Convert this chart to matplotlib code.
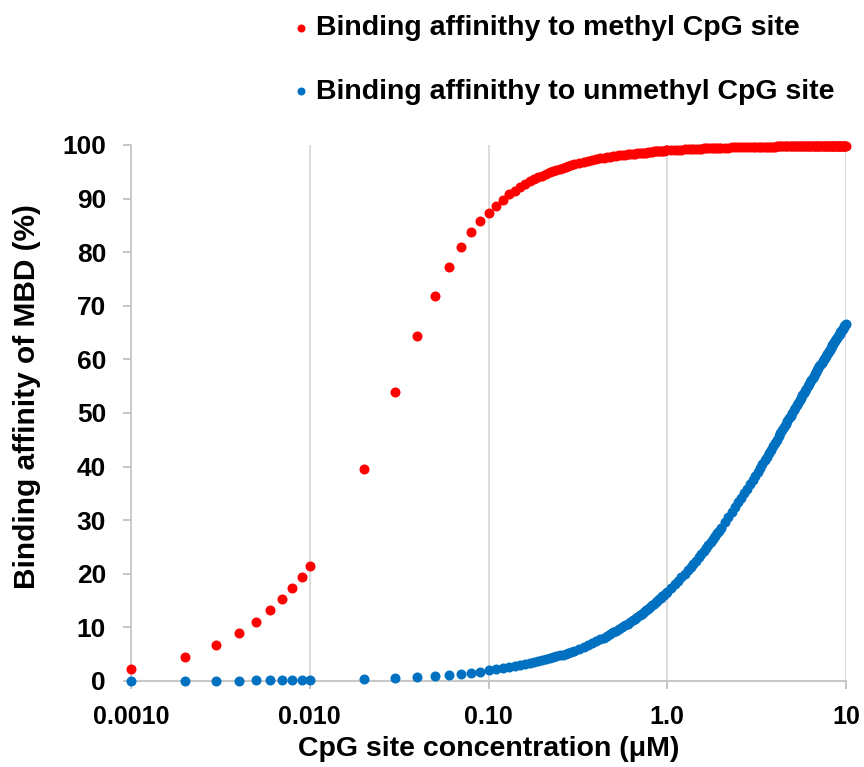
import matplotlib
matplotlib.use('Agg')
import matplotlib.pyplot as plt
from matplotlib import font_manager
from matplotlib.ticker import FixedLocator, NullLocator

plt.rcParams['font.family'] = ['Liberation Sans', 'DejaVu Sans']
plt.rcParams['font.weight'] = 'bold'

# CpG site concentration (uM)
conc = [0.001, 0.002, 0.003, 0.004, 0.005, 0.006, 0.007, 0.008, 0.009, 0.010,
        0.02, 0.03, 0.04, 0.05, 0.06, 0.07, 0.08, 0.09,
        0.10, 0.11, 0.12, 0.13, 0.14, 0.15, 0.16, 0.17, 0.18, 0.19, 0.20,
        0.21, 0.22, 0.23, 0.24, 0.25, 0.26, 0.27, 0.28, 0.29, 0.30,
        0.32, 0.34, 0.36, 0.38, 0.40, 0.42, 0.44, 0.46, 0.48, 0.50,
        0.52, 0.54, 0.56, 0.58, 0.60, 0.62, 0.64, 0.66, 0.68, 0.70,
        0.72, 0.74, 0.76, 0.78, 0.80, 0.82, 0.84, 0.86, 0.88, 0.90,
        0.92, 0.94, 0.96, 0.98, 1.00,
        1.05, 1.10, 1.15, 1.20, 1.25, 1.30, 1.35, 1.40, 1.45, 1.50,
        1.55, 1.60, 1.65, 1.70, 1.75, 1.80, 1.85, 1.90, 1.95, 2.00,
        2.1, 2.2, 2.3, 2.4, 2.5, 2.6, 2.7, 2.8, 2.9, 3.0,
        3.1, 3.2, 3.3, 3.4, 3.5, 3.6, 3.7, 3.8, 3.9, 4.0,
        4.1, 4.2, 4.3, 4.4, 4.5, 4.6, 4.7, 4.8, 4.9, 5.0,
        5.1, 5.2, 5.3, 5.4, 5.5, 5.6, 5.7, 5.8, 5.9, 6.0,
        6.1, 6.2, 6.3, 6.4, 6.5, 6.6, 6.7, 6.8, 6.9, 7.0,
        7.1, 7.2, 7.3, 7.4, 7.5, 7.6, 7.7, 7.8, 7.9, 8.0,
        8.1, 8.2, 8.3, 8.4, 8.5, 8.6, 8.7, 8.8, 8.9, 9.0,
        9.1, 9.2, 9.3, 9.4, 9.5, 9.6, 9.7, 9.8, 9.9, 10.0]

# binding to methyl CpG site (%)
methyl = [2.2, 4.5, 6.8, 8.9, 11.1, 13.3, 15.3, 17.3, 19.4, 21.5,
          39.5, 54.0, 64.4, 71.8, 77.2, 81.0, 83.8, 85.8,
          87.4, 88.7, 89.8, 90.8, 91.5, 92.2, 92.7, 93.2, 93.6, 94.0, 94.3,
          94.6, 94.9, 95.2, 95.4, 95.6, 95.8, 95.9, 96.1, 96.2, 96.4,
          96.6, 96.8, 97.0, 97.2, 97.3, 97.5, 97.6, 97.7, 97.8, 97.9,
          98.0, 98.1, 98.1, 98.2, 98.3, 98.3, 98.4, 98.4, 98.5, 98.5,
          98.6, 98.6, 98.6, 98.7, 98.7, 98.7, 98.8, 98.8, 98.8, 98.9,
          98.9, 98.9, 98.9, 99.0, 99.0,
          99.0, 99.1, 99.1, 99.1, 99.2, 99.2, 99.2, 99.3, 99.3, 99.3,
          99.3, 99.4, 99.4, 99.4, 99.4, 99.4, 99.5, 99.5, 99.5, 99.5,
          99.5, 99.5, 99.6, 99.6, 99.6, 99.6, 99.6, 99.6, 99.7, 99.7,
          99.7, 99.7, 99.7, 99.7, 99.7, 99.7, 99.7, 99.7, 99.7, 99.7,
          99.8, 99.8, 99.8, 99.8, 99.8, 99.8, 99.8, 99.8, 99.8, 99.8,
          99.8, 99.8, 99.8, 99.8, 99.8, 99.8, 99.8, 99.8, 99.8, 99.8,
          99.8, 99.8, 99.8, 99.8, 99.8, 99.8, 99.8, 99.8, 99.8, 99.8,
          99.9, 99.9, 99.9, 99.9, 99.9, 99.9, 99.9, 99.9, 99.9, 99.9,
          99.9, 99.9, 99.9, 99.9, 99.9, 99.9, 99.9, 99.9, 99.9, 99.9,
          99.9, 99.9, 99.9, 99.9, 99.9, 99.9, 99.9, 99.9, 99.9, 99.9]

# binding to unmethyl CpG site (%)
unmethyl = [0.02, 0.04, 0.06, 0.08, 0.10, 0.12, 0.14, 0.16, 0.18, 0.20,
            0.40, 0.60, 0.79, 0.99, 1.19, 1.38, 1.57, 1.77,
            1.96, 2.15, 2.34, 2.53, 2.72, 2.91, 3.10, 3.29, 3.48, 3.66, 3.85,
            4.03, 4.22, 4.40, 4.58, 4.76, 4.94, 5.12, 5.30, 5.48, 5.66,
            6.02, 6.37, 6.72, 7.06, 7.41, 7.75, 8.09, 8.43, 8.76, 9.09,
            9.42, 9.75, 10.07, 10.39, 10.71, 11.03, 11.35, 11.66, 11.97, 12.28,
            12.59, 12.89, 13.19, 13.49, 13.79, 14.09, 14.38, 14.68, 14.97, 15.25,
            15.54, 15.82, 16.11, 16.39, 16.67,
            17.36, 18.03, 18.70, 19.35, 20.00, 20.63, 21.26, 21.88, 22.48, 23.08,
            23.66, 24.24, 24.81, 25.37, 25.93, 26.47, 27.01, 27.54, 28.06, 28.57,
            29.58, 30.56, 31.51, 32.43, 33.33, 34.21, 35.06, 35.90, 36.71, 37.50,
            38.27, 39.02, 39.76, 40.48, 41.18, 41.86, 42.53, 43.18, 43.82, 44.44,
            45.05, 45.65, 46.24, 46.81, 47.37, 47.92, 48.45, 48.98, 49.49, 50.00,
            50.50, 50.98, 51.46, 51.92, 52.38, 52.83, 53.27, 53.70, 54.13, 54.55,
            54.95, 55.36, 55.75, 56.14, 56.52, 56.90, 57.26, 57.63, 57.98, 58.33,
            58.68, 59.02, 59.35, 59.68, 60.00, 60.32, 60.63, 60.94, 61.24, 61.54,
            61.83, 62.12, 62.41, 62.69, 62.96, 63.24, 63.50, 63.77, 64.03, 64.29,
            64.54, 64.79, 65.03, 65.28, 65.52, 65.75, 65.99, 66.22, 66.44, 66.67]

xticks = [0.001, 0.01, 0.1, 1, 10]
xticklabels = ['0.0010', '0.010', '0.10', '1.0', '10']
yticks = list(range(0, 101, 10))

labels = ['Binding affinithy to methyl CpG site',
          'Binding affinithy to unmethyl CpG site']
colors = ['#ff0000', '#0070c0']

# narrow face for the x tick labels, if there is one
names = {f.name for f in font_manager.fontManager.ttflist}
if 'Liberation Sans Narrow' in names:
    xtick_font, xtick_size = 'Liberation Sans Narrow', 20
else:
    xtick_font, xtick_size = 'Liberation Sans', 18

fig = plt.figure(figsize=(8.64, 7.67), dpi=100)
ax = fig.add_axes([131 / 864, 1 - 681 / 767, 715 / 864, 536 / 767])

h1 = ax.scatter(conc, methyl, s=52, color=colors[0], linewidths=0, zorder=3,
                clip_on=False, label=labels[0])
h2 = ax.scatter(conc, unmethyl, s=52, color=colors[1], linewidths=0, zorder=3,
                clip_on=False, label=labels[1])

ax.set_xscale('log')
ax.set_xlim(0.001, 10)
ax.set_ylim(0, 100)
ax.xaxis.set_major_locator(FixedLocator(xticks))
ax.xaxis.set_minor_locator(NullLocator())
ax.set_xticklabels(xticklabels, fontfamily=[xtick_font, 'DejaVu Sans'],
                   fontsize=xtick_size, fontweight='bold')
ax.set_yticks(yticks)

ax.grid(axis='x', color='#d9d9d9', linewidth=1.3)
ax.set_axisbelow(True)
for side in ['top', 'right']:
    ax.spines[side].set_visible(False)
ax.spines['left'].set_color('#c8c8c8')
ax.spines['left'].set_linewidth(1.3)
ax.spines['bottom'].set_color('#c8c8c8')
ax.spines['bottom'].set_linewidth(1.5)
ax.tick_params(axis='both', colors='#c0c0c0', length=6, width=1.3,
               labelcolor='black')
ax.tick_params(axis='y', labelsize=19, pad=12)
ax.tick_params(axis='x', pad=11)

ax.set_xlabel('CpG site concentration (μM)', fontsize=20.5, fontweight='bold',
              labelpad=5)
ax.set_ylabel('Binding affinity of MBD (%)', fontsize=21.5, fontweight='bold')
ax.yaxis.set_label_coords(-0.126, 0.53)

fig.legend(handles=[h1, h2], loc='upper left',
           bbox_to_anchor=(292 / 864, 1 - 15 / 767),
           frameon=False, fontsize=20.5, markerscale=0.8, handlelength=0.6,
           handletextpad=0.25, labelspacing=1.32, borderpad=0, borderaxespad=0)

fig.savefig('out.png', dpi=100)
